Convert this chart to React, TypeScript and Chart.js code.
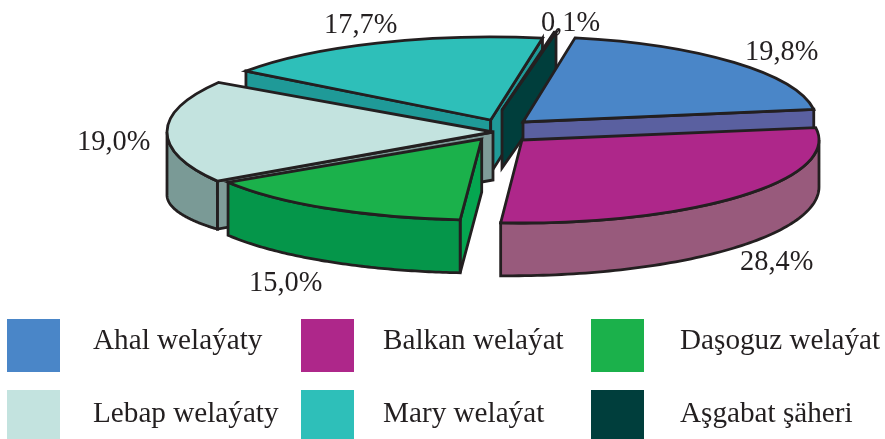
import React, { useEffect, useRef } from "react";
import { Chart, registerables } from "chart.js";

Chart.register(...registerables);

// ---- data ----
const categories = ["Ahal welaýaty", "Balkan welaýat", "Daşoguz welaýat", "Lebap welaýaty", "Mary welaýat", "Aşgabat şäheri"];
const shares = [19.8, 28.4, 15.0, 19.0, 17.7, 0.1];

// ---- styles ----
const topColors = ["#4a86c8", "#ae278a", "#1bb14b", "#c3e3df", "#2ebfb9", "#003e3c"];
const wallColors = ["#5a60a0", "#985a7c", "#05964a", "#7a9a96", "#1f9a98", "#003e3c"];
const cutColors = ["#5a60a0", "#985a7c", "#05a650", "#7f9c99", "#1f9a98", "#003e3c"];
const ink = "#231f20";
const firstSliceDeg = 10.2;
// exploded pie geometry per slice
const apexX = [523, 522, 481.7, 493, 490.7, 502];
const apexY = [122, 140, 139, 132, 120, 110];
const radiusX = [294, 297, 300, 326, 303, 305];
const radiusY = [85.5, 83, 81, 92, 83, 79];
const startTrimDeg = [0, 0, 0.4, 0, 0, 0];
const endTrimDeg = [0, 0.4, 0, -3.5, 0, 0];
const depthFrom = [53, 47, 53, 48, 53, 58];
const depthTo = [53, 53, 53, 63, 53, 58];
const drawOrder = [4, 5, 0, 3, 1, 2];
const pctX = [745, 740, 249, 77, 324, 541];
const pctY = [60, 270, 291, 150, 33, 31];
const legendSwatchX = [7, 301, 591, 7, 301, 591];
const legendSwatchY = [319, 319, 319, 390, 390, 390];
const legendTextX = [93, 383, 680, 93, 383, 680];
const legendTextY = [349, 349, 349, 422, 422, 422];
const swatchW = 53;
const swatchH = [53, 53, 53, 49, 49, 49];
const legendFont = "29.2px 'Liberation Serif'";
const pctFont = "28.4px 'Liberation Serif'";
const rad = Math.PI / 180;

const pie3d = {
  id: "pie3d",
  beforeDatasetDraw() {
    return false;
  },
  afterDatasetsDraw(chart: any) {
    const ctx: CanvasRenderingContext2D = chart.ctx;
    const arcs = chart.getDatasetMeta(0).data;
    ctx.save();
    ctx.lineWidth = 2.8;
    ctx.strokeStyle = ink;
    ctx.lineJoin = "miter";
    ctx.miterLimit = 4;

    const paint = (fill: string) => {
      ctx.fillStyle = fill;
      ctx.fill();
      ctx.stroke();
    };

    for (const i of drawOrder) {
      const a1: number = arcs[i].startAngle + startTrimDeg[i] * rad;
      const a2: number = arcs[i].endAngle + endTrimDeg[i] * rad;
      const cx = apexX[i];
      const cy = apexY[i];
      const rx = radiusX[i];
      const ry = radiusY[i];
      const px = (a: number) => cx + rx * Math.cos(a);
      const py = (a: number) => cy + ry * Math.sin(a);

      // visible radial cut faces
      const face = (a: number, d: number) => {
        ctx.beginPath();
        ctx.moveTo(cx, cy);
        ctx.lineTo(px(a), py(a));
        ctx.lineTo(px(a), py(a) + d);
        ctx.lineTo(cx, cy + d);
        ctx.closePath();
        paint(cutColors[i]);
      };
      if (Math.cos(a1) < 0) face(a1, depthFrom[i]);
      if (Math.cos(a2) > 0) face(a2, depthTo[i]);

      // outer wall: only the front half of the rim faces the viewer
      const w1 = Math.max(a1, 0);
      const w2 = Math.min(a2, Math.PI);
      if (w2 > w1) {
        const steps = 80;
        ctx.beginPath();
        for (let s = 0; s <= steps; s++) {
          const a = w1 + ((w2 - w1) * s) / steps;
          if (s === 0) ctx.moveTo(px(a), py(a));
          else ctx.lineTo(px(a), py(a));
        }
        for (let s = steps; s >= 0; s--) {
          const a = w1 + ((w2 - w1) * s) / steps;
          ctx.lineTo(px(a), py(a) + depthFrom[i] + ((depthTo[i] - depthFrom[i]) * s) / steps);
        }
        ctx.closePath();
        paint(wallColors[i]);
      }

      // top face
      ctx.beginPath();
      ctx.moveTo(cx, cy);
      ctx.ellipse(cx, cy, rx, ry, 0, a1, a2);
      ctx.closePath();
      paint(topColors[i]);
    }
    ctx.restore();
  },
  afterDraw(chart: any) {
    const ctx: CanvasRenderingContext2D = chart.ctx;
    const labels: string[] = chart.data.labels;
    const values: number[] = chart.data.datasets[0].data;
    const colors: string[] = chart.data.datasets[0].backgroundColor;
    ctx.save();
    ctx.fillStyle = ink;
    ctx.textBaseline = "alphabetic";
    ctx.textAlign = "left";
    ctx.font = pctFont;
    values.forEach((v, i) => {
      ctx.fillText(v.toFixed(1).replace(".", ",") + "%", pctX[i], pctY[i]);
    });
    ctx.font = legendFont;
    labels.forEach((label, i) => {
      ctx.fillStyle = colors[i];
      ctx.fillRect(legendSwatchX[i], legendSwatchY[i], swatchW, swatchH[i]);
      ctx.fillStyle = ink;
      ctx.fillText(label, legendTextX[i], legendTextY[i]);
    });
    ctx.restore();
  },
};

export default function App() {
  const ref = useRef<HTMLCanvasElement>(null);
  useEffect(() => {
    document.body.style.margin = "0";
    const chart = new Chart(ref.current!, {
      type: "pie",
      data: {
        labels: categories,
        datasets: [{ data: shares, backgroundColor: topColors }],
      },
      options: {
        responsive: false,
        animation: false,
        rotation: firstSliceDeg,
        plugins: { legend: { display: false }, tooltip: { enabled: false } },
      },
      plugins: [pie3d],
    } as any);
    return () => chart.destroy();
  }, []);
  return (
    <canvas
      ref={ref}
      width={885}
      height={439}
      style={{ display: "block", width: 885, height: 439, background: "#ffffff" }}
    />
  );
}
